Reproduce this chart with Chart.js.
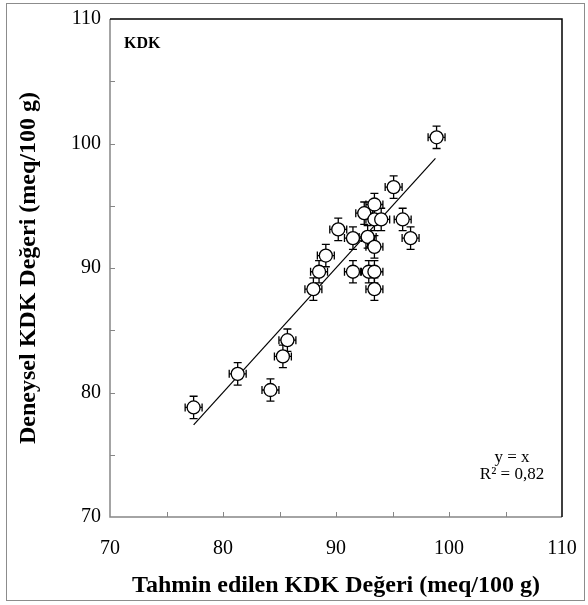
<!DOCTYPE html>
<html>
<head>
<meta charset="utf-8">
<script src="https://cdn.jsdelivr.net/npm/chart.js@4.4.1/dist/chart.umd.min.js"></script>
<style>
  html, body { margin: 0; padding: 0; background: #ffffff; }
  #wrap { position: relative; width: 588px; height: 605px; }
  canvas { display: block; }
</style>
</head>
<body>
<div id="wrap"><canvas id="c" width="588" height="605"></canvas></div>
<script>
// Predicted (x) and measured (y) cation exchange capacity, meq/100 g
const predicted = [77.4, 81.3, 84.2, 85.3, 85.7, 88.0, 88.5, 89.1, 90.2, 91.5, 91.5, 92.5,
                   92.8, 92.9, 93.4, 93.4, 93.4, 93.4, 93.4, 94.0, 95.1, 95.9, 96.6, 98.9];
const measured  = [78.8, 81.5, 80.2, 82.9, 84.2, 88.3, 89.7, 91.0, 93.1, 89.7, 92.4, 94.4,
                   92.5, 89.7, 89.7, 88.3, 91.7, 93.9, 95.1, 93.9, 96.5, 93.9, 92.4, 100.5];
// Error bar half-widths (same for every sample)
const predictedErr = [0.75];
const measuredErr  = [0.9];
// y = x reference line drawn across the range of the samples
const lineRange = [77.4, 98.8];
// Axis settings
const axisMin = 70, axisMax = 110, labelStep = 10, tickStep = 5;
const xTitle = 'Tahmin edilen KDK Değeri (meq/100 g)';
const yTitle = 'Deneysel KDK Değeri (meq/100 g)';
const panelLabel = 'KDK';
const fitLines = ['y = x', 'R² = 0,82'];

const serif = '"Liberation Serif", "Times New Roman", serif';
const points = predicted.map((x, i) => ({ x: x, y: measured[i] }));
const diagonal = lineRange.map(v => ({ x: v, y: v }));

// Error bars, drawn beneath the markers
const errorBars = {
  id: 'errorBars',
  beforeDatasetsDraw(chart) {
    const { ctx, scales: { x, y } } = chart;
    const cap = 4;
    ctx.save();
    ctx.strokeStyle = '#000';
    ctx.lineWidth = 1.3;
    points.forEach(p => {
      const px = x.getPixelForValue(p.x), py = y.getPixelForValue(p.y);
      const x0 = x.getPixelForValue(p.x - predictedErr[0]);
      const x1 = x.getPixelForValue(p.x + predictedErr[0]);
      const y0 = y.getPixelForValue(p.y - measuredErr[0]);
      const y1 = y.getPixelForValue(p.y + measuredErr[0]);
      ctx.beginPath();
      ctx.moveTo(x0, py); ctx.lineTo(x1, py);
      ctx.moveTo(x0, py - cap); ctx.lineTo(x0, py + cap);
      ctx.moveTo(x1, py - cap); ctx.lineTo(x1, py + cap);
      ctx.moveTo(px, y0); ctx.lineTo(px, y1);
      ctx.moveTo(px - cap, y0); ctx.lineTo(px + cap, y0);
      ctx.moveTo(px - cap, y1); ctx.lineTo(px + cap, y1);
      ctx.stroke();
    });
    ctx.restore();
  }
};

// Plot frame, inward tick marks, annotations and outer border
const frame = {
  id: 'frame',
  afterDraw(chart) {
    const { ctx, chartArea: a, scales: { x, y } } = chart;
    ctx.save();
    // inward ticks
    ctx.strokeStyle = '#868686';
    ctx.lineWidth = 1;
    for (let v = axisMin + tickStep; v < axisMax; v += tickStep) {
      const px = Math.round(x.getPixelForValue(v)) + 0.5;
      ctx.beginPath(); ctx.moveTo(px, a.bottom); ctx.lineTo(px, a.bottom - 5); ctx.stroke();
      const py = Math.round(y.getPixelForValue(v)) + 0.5;
      ctx.beginPath(); ctx.moveTo(a.left, py); ctx.lineTo(a.left + 5, py); ctx.stroke();
    }
    // left and bottom axis lines
    ctx.lineWidth = 1.5;
    ctx.beginPath();
    ctx.moveTo(a.left, a.top); ctx.lineTo(a.left, a.bottom); ctx.lineTo(a.right, a.bottom);
    ctx.stroke();
    // top and right border
    ctx.strokeStyle = '#000';
    ctx.beginPath();
    ctx.moveTo(a.left, a.top); ctx.lineTo(a.right, a.top); ctx.lineTo(a.right, a.bottom);
    ctx.stroke();
    // panel label
    ctx.fillStyle = '#000';
    ctx.font = 'bold 16px ' + serif;
    ctx.textAlign = 'left';
    ctx.textBaseline = 'middle';
    ctx.fillText(panelLabel, a.left + 14, a.top + 25);
    // fit annotation
    ctx.font = '17px ' + serif;
    ctx.textAlign = 'center';
    ctx.textBaseline = 'alphabetic';
    ctx.fillText(fitLines[0], a.right - 50, a.bottom - 55);
    ctx.fillText(fitLines[1], a.right - 50, a.bottom - 38);
    // outer border
    ctx.strokeStyle = '#8c8c8c';
    ctx.lineWidth = 1;
    ctx.strokeRect(6.5, 3.5, 578, 597);
    ctx.restore();
  }
};

new Chart(document.getElementById('c'), {
  type: 'scatter',
  data: {
    datasets: [
      {
        data: points,
        pointRadius: 6.5,
        pointHoverRadius: 6.5,
        pointBackgroundColor: '#ffffff',
        pointBorderColor: '#000000',
        pointBorderWidth: 1.3,
        order: 1
      },
      {
        type: 'line',
        data: diagonal,
        borderColor: '#000000',
        borderWidth: 1.2,
        pointRadius: 0,
        fill: false,
        order: 2
      }
    ]
  },
  options: {
    responsive: false,
    animation: false,
    devicePixelRatio: 1,
    layout: { padding: { left: 0, right: 26, top: 19, bottom: 0 } },
    plugins: { legend: { display: false }, tooltip: { enabled: false } },
    scales: {
      x: {
        type: 'linear',
        min: axisMin, max: axisMax,
        grid: { display: false, drawTicks: false },
        border: { display: false },
        ticks: {
          stepSize: labelStep,
          padding: 10,
          color: '#000',
          font: { family: serif, size: 20, lineHeight: 2.2 },
          maxRotation: 0
        },
        title: {
          display: true,
          text: xTitle,
          color: '#000',
          font: { family: serif, size: 24, weight: 'bold', lineHeight: 1.2 },
          padding: { top: 0, bottom: 5 }
        },
        afterFit(scale) { scale.height = 88; }
      },
      y: {
        type: 'linear',
        min: axisMin, max: axisMax,
        grid: { display: false, drawTicks: false },
        border: { display: false },
        ticks: {
          stepSize: labelStep,
          padding: 9,
          color: '#000',
          font: { family: serif, size: 20, lineHeight: 1 }
        },
        title: {
          display: true,
          text: yTitle,
          color: '#000',
          font: { family: serif, size: 24, weight: 'bold', lineHeight: 1.2 },
          padding: { top: 14, bottom: 0 }
        },
        afterFit(scale) { scale.width = 110; }
      }
    }
  },
  plugins: [errorBars, frame]
});
</script>
</body>
</html>
